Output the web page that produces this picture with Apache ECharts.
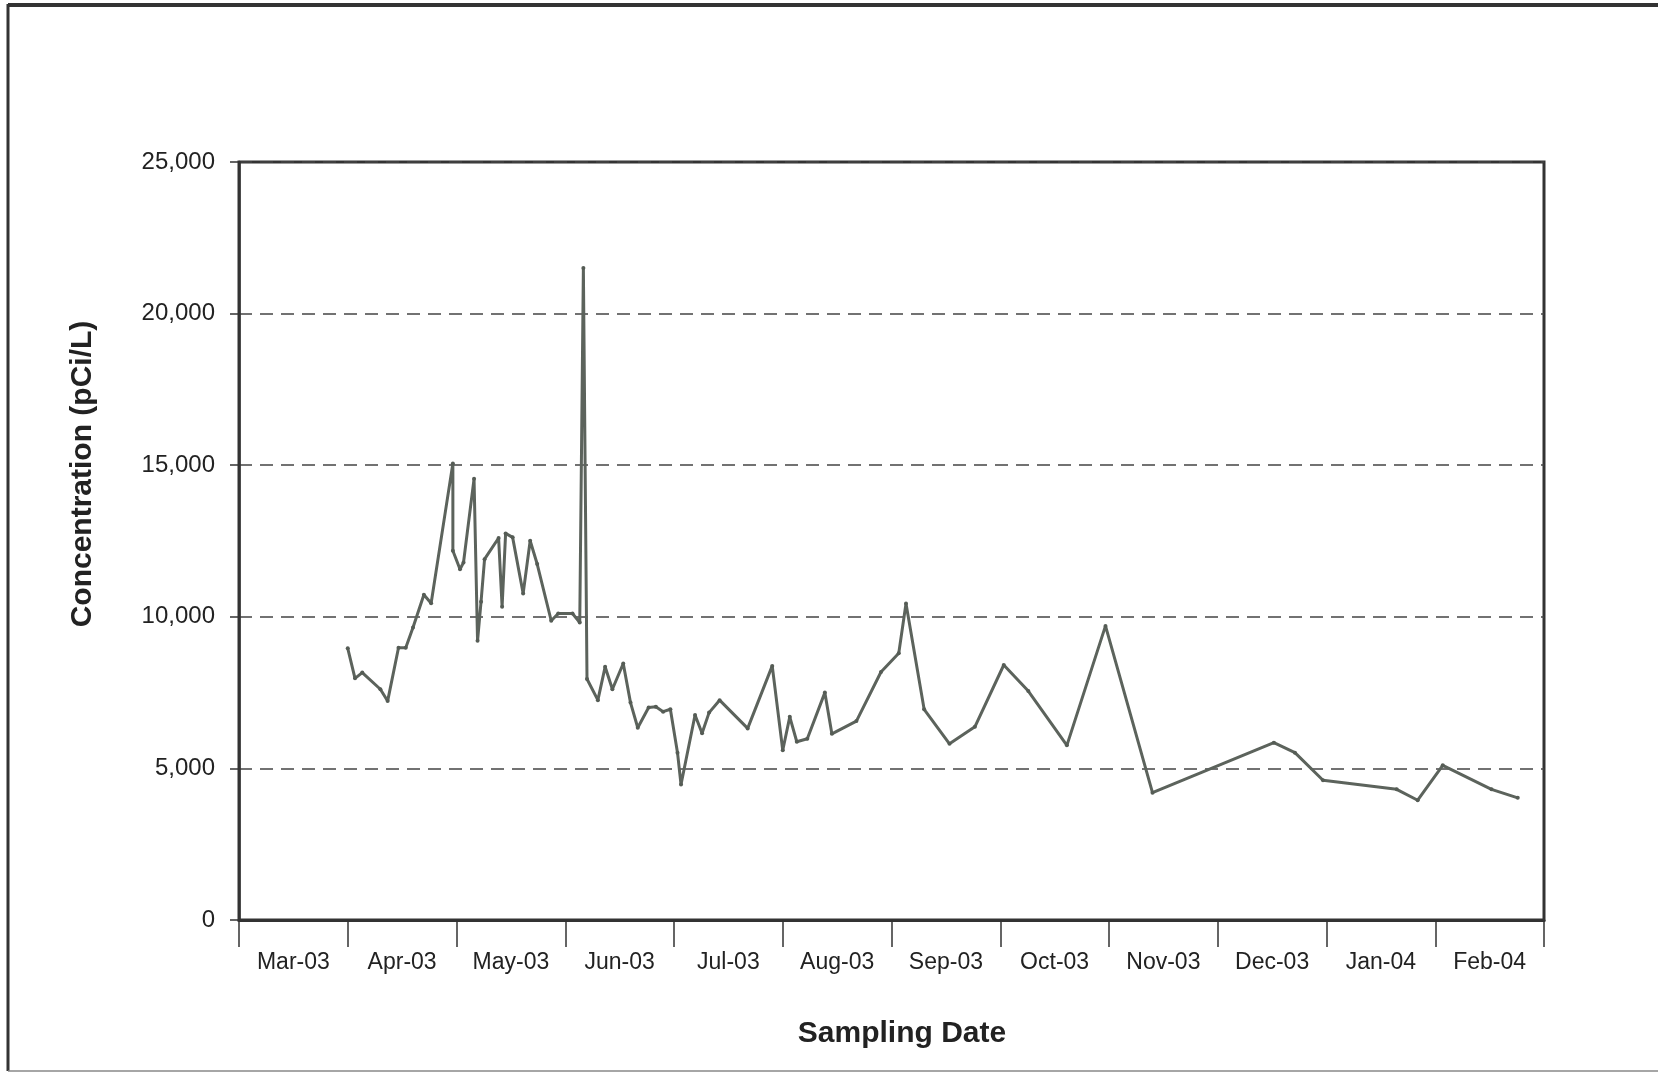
<!DOCTYPE html>
<html>
<head>
<meta charset="utf-8">
<title>Concentration by Sampling Date</title>
<script src="https://cdn.jsdelivr.net/npm/echarts@6/dist/echarts.min.js"></script>
<style>
  html, body { margin: 0; padding: 0; background: #ffffff; }
  #chart { width: 1658px; height: 1075px; }
</style>
</head>
<body>
<div id="chart"></div>
<script>
// Month labels along the sampling-date axis (one label per month band)
const monthLabels = ['Mar-03', 'Apr-03', 'May-03', 'Jun-03', 'Jul-03', 'Aug-03',
                     'Sep-03', 'Oct-03', 'Nov-03', 'Dec-03', 'Jan-04', 'Feb-04'];

// Sampling dates
const sampleDates = [
  '2003-04-01', '2003-04-03', '2003-04-05', '2003-04-10', '2003-04-12', '2003-04-15',
  '2003-04-17', '2003-04-19', '2003-04-22', '2003-04-24', '2003-04-30', '2003-04-30',
  '2003-05-02', '2003-05-03', '2003-05-06', '2003-05-07', '2003-05-08', '2003-05-09',
  '2003-05-13', '2003-05-14', '2003-05-15', '2003-05-17', '2003-05-20', '2003-05-22',
  '2003-05-24', '2003-05-28', '2003-05-30', '2003-06-03', '2003-06-05', '2003-06-06',
  '2003-06-07', '2003-06-10', '2003-06-12', '2003-06-14', '2003-06-17', '2003-06-19',
  '2003-06-21', '2003-06-24', '2003-06-26', '2003-06-28', '2003-06-30', '2003-07-02',
  '2003-07-03', '2003-07-07', '2003-07-09', '2003-07-11', '2003-07-14', '2003-07-22',
  '2003-07-29', '2003-08-01', '2003-08-03', '2003-08-05', '2003-08-08', '2003-08-13',
  '2003-08-15', '2003-08-22', '2003-08-29', '2003-09-03', '2003-09-05', '2003-09-10',
  '2003-09-17', '2003-09-24', '2003-10-02', '2003-10-09', '2003-10-20', '2003-10-31',
  '2003-11-13', '2003-12-17', '2003-12-23', '2003-12-31', '2004-01-21', '2004-01-27',
  '2004-02-03', '2004-02-16', '2004-02-23'
];

// Concentration (pCi/L) for each sampling date
const concentrations = [
  8960, 7970, 8160, 7610, 7220, 8980,
  8980, 9650, 10730, 10450, 15060, 12180,
  11570, 11790, 14550, 9210, 10500, 11900,
  12600, 10330, 12750, 12620, 10770, 12510,
  11740, 9870, 10110, 10110, 9810, 21500,
  7950, 7250, 8350, 7610, 8460, 7170,
  6340, 7010, 7030, 6870, 6950, 5520,
  4470, 6760, 6160, 6840, 7250, 6320,
  8380, 5600, 6700, 5880, 5980, 7500,
  6140, 6560, 8180, 8800, 10440, 6950,
  5810, 6370, 8410, 7550, 5760, 9700,
  4200, 5850, 5520, 4610, 4310, 3950,
  5100, 4310, 4030
];

// Y axis range
const yMin = 0, yMax = 25000, yStep = 5000;

// Each month gets an equal-width band on the axis: position = months since Mar 1 2003
// plus the fraction of the month elapsed.
function monthPosition(dateStr) {
  const [y, m, d] = dateStr.split('-').map(Number);
  const daysInMonth = new Date(y, m, 0).getDate();
  const monthIndex = (y - 2003) * 12 + (m - 3);
  return monthIndex + (d - 1) / daysInMonth;
}

const seriesData = sampleDates.map((d, i) => [monthPosition(d), concentrations[i]]);

const FONT = "'Liberation Sans', Arial, sans-serif";
const chart = echarts.init(document.getElementById('chart'), null, { renderer: 'canvas' });

chart.setOption({
  backgroundColor: '#ffffff',
  animation: false,
  grid: {
    left: 239, top: 162, width: 1305, height: 758,
    show: true, borderColor: '#333333', borderWidth: 3, backgroundColor: 'transparent'
  },
  xAxis: [
    {
      type: 'category',
      data: monthLabels,
      boundaryGap: true,
      axisLine: { show: true, lineStyle: { color: '#333333', width: 3 } },
      axisTick: { show: true, alignWithLabel: false, length: 27, lineStyle: { color: '#333333', width: 1.5 } },
      axisLabel: { color: '#222222', fontSize: 23, fontFamily: FONT, margin: 31 },
      splitLine: { show: false }
    },
    {
      type: 'value',
      min: 0, max: 12,
      show: false,
      splitLine: { show: false }
    }
  ],
  yAxis: {
    type: 'value',
    min: yMin, max: yMax, interval: yStep,
    axisLine: { show: true, lineStyle: { color: '#333333', width: 2.5 } },
    axisTick: { show: true, length: 9, lineStyle: { color: '#333333', width: 1.5 } },
    axisLabel: {
      color: '#222222', fontSize: 24, fontFamily: FONT, margin: 24,
      formatter: v => v.toLocaleString('en-US')
    },
    splitLine: { show: true, lineStyle: { color: '#444444', width: 1.6, type: [13, 8] } }
  },
  series: [{
    type: 'line',
    xAxisIndex: 1,
    data: seriesData,
    symbol: 'circle',
    symbolSize: 4,
    showSymbol: true,
    itemStyle: { color: '#555c55' },
    lineStyle: { color: '#5c635c', width: 3 },
    z: 5
  }],
  graphic: [
    // outer frame of the figure
    { type: 'line', shape: { x1: 8, y1: 5, x2: 1658, y2: 5 }, style: { stroke: '#333333', lineWidth: 4 } },
    { type: 'line', shape: { x1: 8, y1: 4, x2: 8, y2: 1071 }, style: { stroke: '#333333', lineWidth: 3 } },
    { type: 'line', shape: { x1: 8, y1: 1071, x2: 1658, y2: 1071 }, style: { stroke: '#888888', lineWidth: 1.5 } },
    // axis titles
    {
      type: 'text', x: 902, y: 1034,
      style: { text: 'Sampling Date', font: 'bold 30px ' + FONT, fill: '#222222', align: 'center', verticalAlign: 'middle' }
    },
    {
      type: 'text', x: 83, y: 474, rotation: Math.PI / 2,
      style: { text: 'Concentration (pCi/L)', font: 'bold 30px ' + FONT, fill: '#222222', align: 'center', verticalAlign: 'middle' }
    }
  ]
});
</script>
</body>
</html>
